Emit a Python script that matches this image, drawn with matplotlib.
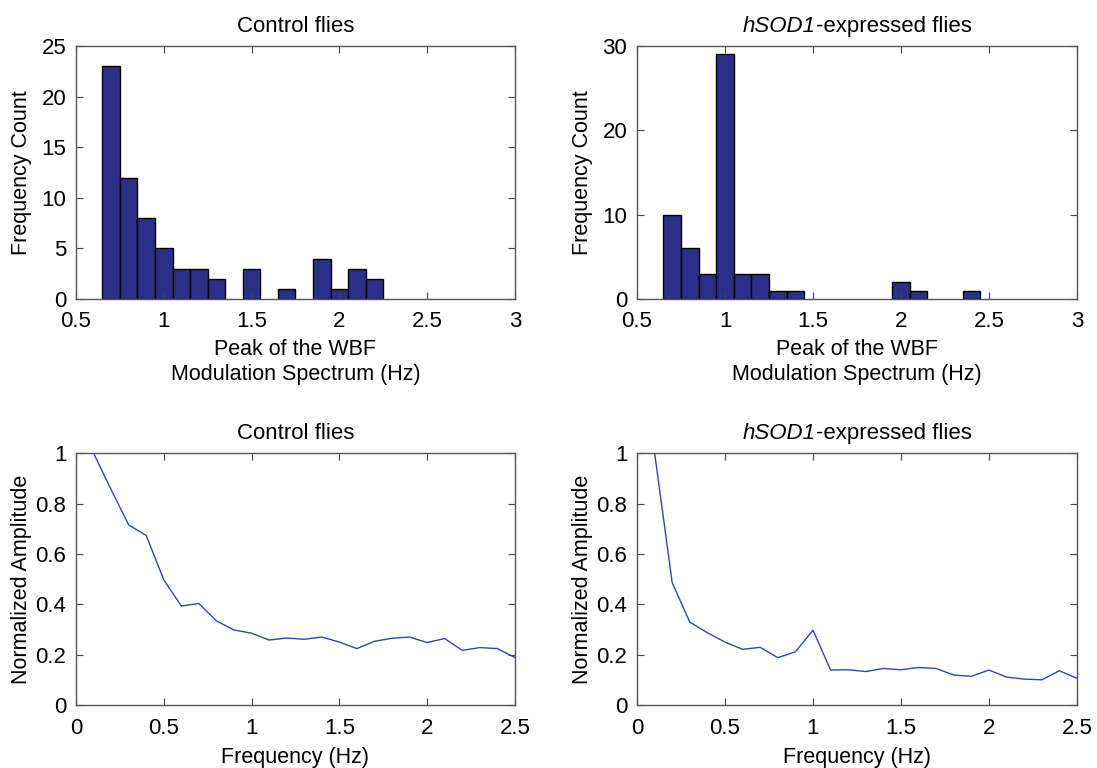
import matplotlib
matplotlib.use("Agg")
import matplotlib.pyplot as plt
from matplotlib.transforms import IdentityTransform

plt.rcParams['font.family'] = ['Liberation Sans', 'DejaVu Sans']

# histogram bins (width 0.1) and counts
bin_edges = [0.65, 0.75, 0.85, 0.95, 1.05, 1.15, 1.25, 1.35, 1.45, 1.55, 1.65,
             1.75, 1.85, 1.95, 2.05, 2.15, 2.25, 2.35, 2.45]
control_counts = [23, 12, 8, 5, 3, 3, 2, 0, 3, 0, 1, 0, 4, 1, 3, 2, 0, 0]
hsod1_counts = [10, 6, 3, 29, 3, 3, 1, 1, 0, 0, 0, 0, 0, 2, 1, 0, 0, 1]

# modulation spectra
freq = [0.1, 0.2, 0.3, 0.4, 0.5, 0.6, 0.7, 0.8, 0.9, 1.0, 1.1, 1.2, 1.3,
        1.4, 1.5, 1.6, 1.7, 1.8, 1.9, 2.0, 2.1, 2.2, 2.3, 2.4, 2.5]
control_amp = [1.0, 0.855, 0.715, 0.673, 0.497, 0.393, 0.403, 0.334, 0.298,
               0.285, 0.258, 0.266, 0.261, 0.270, 0.250, 0.224, 0.253, 0.265,
               0.270, 0.248, 0.264, 0.217, 0.228, 0.224, 0.189]
hsod1_amp = [1.0, 0.485, 0.329, 0.287, 0.250, 0.221, 0.229, 0.188, 0.211,
             0.297, 0.139, 0.140, 0.133, 0.145, 0.140, 0.149, 0.145, 0.119,
             0.114, 0.139, 0.111, 0.103, 0.100, 0.136, 0.106]

bar_color = '#2b2f87'
line_color = '#3346ad'
fs_tick = 16
fs_lab = 15.5
fs_title = 16
title_pad = 10

fig = plt.figure(figsize=(10.97, 7.68), dpi=100)
ax1 = fig.add_axes([0.0693, 0.6107, 0.400, 0.3294])
ax2 = fig.add_axes([0.5807, 0.6107, 0.401, 0.3294])
ax3 = fig.add_axes([0.0693, 0.082, 0.400, 0.328])
ax4 = fig.add_axes([0.5807, 0.082, 0.401, 0.328])

def style(ax):
    ax.tick_params(direction='in', top=True, right=True, length=5,
                   labelsize=fs_tick, color='#444444')
    ax.tick_params(axis='x', pad=9)
    ax.tick_params(axis='y', pad=7)
    ax.yaxis.set_label_coords(-0.1, 0.5)
    for s in ax.spines.values():
        s.set_color('#555555')
        s.set_linewidth(1.0)

# histograms
for ax, counts, ymax, yt in [(ax1, control_counts, 25, [0, 5, 10, 15, 20, 25]),
                             (ax2, hsod1_counts, 30, [0, 10, 20, 30])]:
    n, b, patches = ax.hist(bin_edges[:-1], bins=bin_edges, weights=counts,
                            color=bar_color, edgecolor='black', linewidth=1.0)
    # empty bins should not leave an outline on the axis
    for p, c in zip(patches, counts):
        if c == 0:
            p.set_visible(False)
    ax.set_xlim(0.5, 3)
    ax.set_ylim(0, ymax)
    ax.set_xticks([0.5, 1, 1.5, 2, 2.5, 3])
    ax.set_xticklabels(['0.5', '1', '1.5', '2', '2.5', '3'])
    ax.set_yticks(yt)
    ax.set_xlabel('Peak of the WBF\nModulation Spectrum (Hz)', fontsize=fs_lab,
                  labelpad=5, linespacing=1.2)
    ax.set_ylabel('Frequency Count', fontsize=fs_lab)
    style(ax)

# spectra
for ax, amp in [(ax3, control_amp), (ax4, hsod1_amp)]:
    ax.plot(freq, amp, color=line_color, linewidth=1.0)
    ax.set_xlim(0, 2.5)
    ax.set_ylim(0, 1)
    ax.set_xticks([0, 0.5, 1, 1.5, 2, 2.5])
    ax.set_xticklabels(['0', '0.5', '1', '1.5', '2', '2.5'])
    ax.set_yticks([0, 0.2, 0.4, 0.6, 0.8, 1])
    ax.set_yticklabels(['0', '0.2', '0.4', '0.6', '0.8', '1'])
    ax.set_xlabel('Frequency (Hz)', fontsize=fs_lab, labelpad=6)
    ax.set_ylabel('Normalized Amplitude', fontsize=fs_lab)
    style(ax)

ax1.set_title('Control flies', fontsize=fs_title, pad=title_pad)
ax3.set_title('Control flies', fontsize=fs_title, pad=title_pad)

# titles with italic gene name: two text pieces centred together
fig.canvas.draw()
renderer = fig.canvas.get_renderer()
for ax in (ax2, ax4):
    t1 = fig.text(0, 0, 'hSOD1', style='italic', fontsize=fs_title,
                  transform=IdentityTransform(), ha='left', va='baseline')
    t2 = fig.text(0, 0, '-expressed flies', fontsize=fs_title,
                  transform=IdentityTransform(), ha='left', va='baseline')
    w1 = t1.get_window_extent(renderer).width
    w2 = t2.get_window_extent(renderer).width
    bb = ax.get_window_extent(renderer)
    x0 = bb.x0 + bb.width / 2 - (w1 + w2) / 2
    y0 = bb.y1 + title_pad * fig.dpi / 72
    t1.set_position((x0, y0))
    t2.set_position((x0 + w1, y0))

fig.savefig('out.png', dpi=100)
